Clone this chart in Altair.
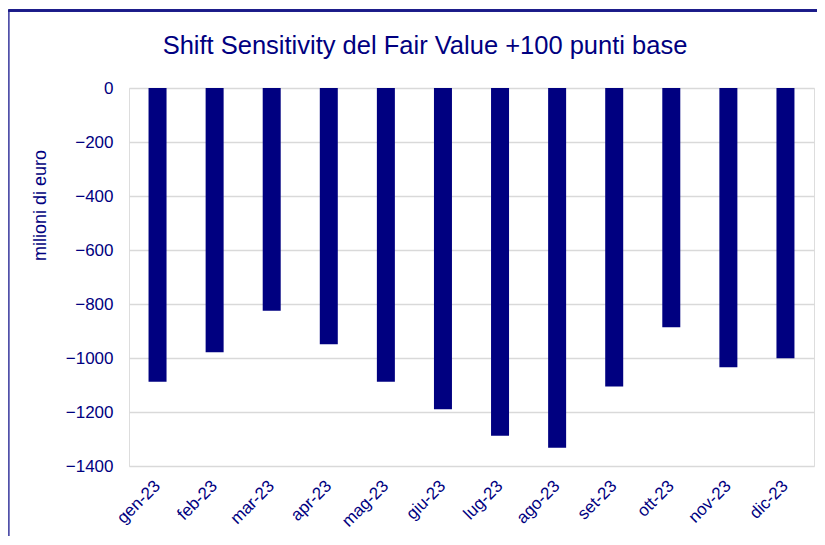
import altair as alt
import pandas as pd

months = ["gen-23", "feb-23", "mar-23", "apr-23", "mag-23", "giu-23",
          "lug-23", "ago-23", "set-23", "ott-23", "nov-23", "dic-23"]
values = [-1088, -979, -825, -949, -1088, -1190,
          -1288, -1332, -1106, -886, -1034, -1001]
y_ticks = [0, -200, -400, -600, -800, -1000, -1200, -1400]
title_text = ["Shift Sensitivity del Fair Value +100 punti base"]

df = pd.DataFrame({"mese": months, "valore": values})
tdf = pd.DataFrame({"t": title_text})

NAVY = "#000080"
FONT = "Liberation Sans"

bars = alt.Chart(df).mark_bar(color=NAVY, size=18).encode(
    x=alt.X("mese:N", sort=months, title=None,
            scale=alt.Scale(paddingInner=0, paddingOuter=0),
            axis=alt.Axis(labelAngle=-45, labelFontSize=17, labelColor=NAVY,
                          labelFont=FONT, domain=False, ticks=False,
                          labelPadding=17, labelAlign="right",
                          labelBaseline="middle", grid=False)),
    y=alt.Y("valore:Q", title="milioni di euro",
            scale=alt.Scale(domain=[-1400, 0], nice=False),
            axis=alt.Axis(values=y_ticks, format="d", labelFontSize=17,
                          labelColor=NAVY, labelFont=FONT, domain=False,
                          ticks=False, labelPadding=16, gridColor="#d9d9d9",
                          gridWidth=1.5, titleFontSize=18, titleColor=NAVY,
                          titleFont=FONT, titleFontWeight="normal",
                          titleAngle=-90, titleX=-89, titleY=117,
                          titleAlign="center", titleBaseline="middle")),
)

title = alt.Chart(tdf).mark_text(fontSize=25.5, color=NAVY, font=FONT,
                                 align="center", baseline="middle").encode(
    text="t:N", x=alt.value(296), y=alt.value(-42)
)

frame_left = alt.Chart(df).mark_rule(color="#5050a8", strokeWidth=1.2).encode(
    x=alt.value(-120.5), y=alt.value(-77.5), y2=alt.value(460)
)
frame_top = alt.Chart(df).mark_rule(color="#1a1a88", strokeWidth=1.5).encode(
    x=alt.value(-120.5), x2=alt.value(700), y=alt.value(-77.5)
)

chart = alt.layer(frame_left, frame_top, title, bars).properties(
    width=685, height=378,
    autosize=alt.AutoSizeParams(type="none"),
    padding={"left": 121, "top": 80, "right": 3, "bottom": 70},
).configure_view(stroke=None).configure(background="white")

chart.save("out.html", embed_options={"renderer": "svg", "actions": False})
